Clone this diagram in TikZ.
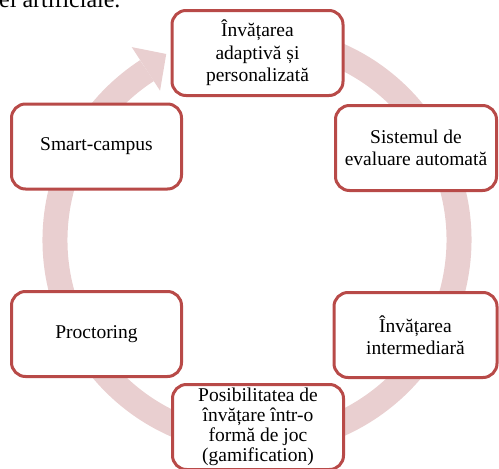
\documentclass[tikz,border=0pt]{standalone}
\usepackage{fontspec}
\setmainfont{Liberation Serif}
\usepackage{tikz}

\definecolor{ringpink}{RGB}{233,207,208}
\definecolor{boxred}{RGB}{184,74,72}

\begin{document}
\begin{tikzpicture}[x=1pt, y=-1pt,
		box/.style={draw=boxred, line width=3pt, fill=white, rounded corners=14pt, inner sep=0pt, align=center, minimum width=171pt, minimum height=85pt, font=\fontsize{19.5}{22.5}\selectfont},
		ring/.style={draw=ringpink, line width=25pt}]
		\useasboundingbox (0,0) rectangle (499,469);
		\clip (0,0) rectangle (499,469);
		\node[anchor=base west, inner sep=0pt, font=\fontsize{24}{28}\selectfont] (cap) at (-1,7) {ei artificiale.};
		% the cycle behind the boxes
		\coordinate (c) at (257,240);
		\draw[ring] ([shift={(-80:202)}]c) arc[start angle=-80, end angle=237, radius=202];
		\fill[ringpink] ([shift={(237:178)}]c) -- ([shift={(244:207)}]c) -- ([shift={(237:230)}]c) -- cycle;
		\node[box] (adaptive) at (257.5,53) {Învățarea\\adaptivă și\\personalizată};
		\node[box, minimum width=161pt] (evaluare) at (416,148) {Sistemul de\\evaluare automată};
		\node[box, minimum width=163pt] (intermed) at (415.5,335) {Învățarea\\intermediară};
		\node[box, font=\fontsize{19.5}{20}\selectfont] (joc) at (258,427) {Posibilitatea de\\învățare într-o\\formă de joc\\(gamification)};
		\node[box, minimum width=170pt] (proctor) at (96.5,334) {Proctoring};
		\node[box, minimum width=170pt] (campus) at (96.5,146.5) {Smart-campus};
\end{tikzpicture}
\end{document}
